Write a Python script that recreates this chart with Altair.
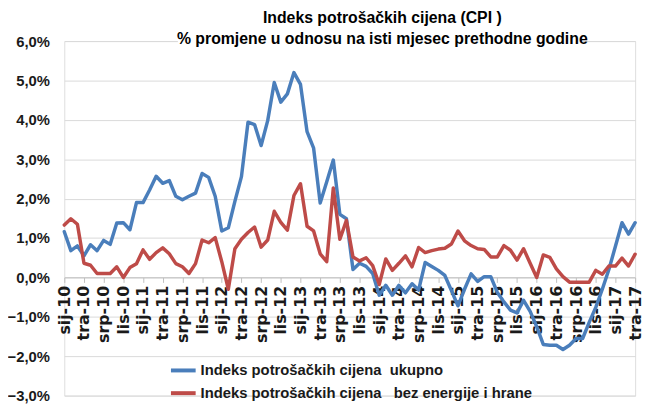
import altair as alt
import pandas as pd

# Croatian month abbreviations and years
month_names = ["sij", "velj", "ožu", "tra", "svi", "lip", "srp", "kol", "ruj", "lis", "stu", "pro"]
years = ["10", "11", "12", "13", "14", "15", "16", "17"]
periods = [f"{m}-{y}" for y in years for m in month_names][:88]  # sij-10 .. tra-17

# CPI total, % change y/y
ukupno = [
    1.16, 0.68, 0.80, 0.55, 0.83, 0.68, 0.94, 0.84, 1.38, 1.39, 1.21, 1.90,
    1.90, 2.22, 2.57, 2.39, 2.46, 2.06, 1.97, 2.06, 2.14, 2.64, 2.54, 2.06,
    1.18, 1.26, 1.93, 2.56, 3.94, 3.88, 3.35, 3.98, 4.95, 4.45, 4.66, 5.20,
    4.90, 3.70, 3.28, 1.89, 2.43, 2.98, 1.60, 1.49, 0.20, 0.36, 0.28, 0.10,
    -0.45, -0.20, -0.45, -0.20, -0.39, -0.16, -0.32, 0.38, 0.28, 0.18, 0.05, -0.33,
    -0.72, -0.30, 0.09, -0.10, 0.02, 0.02, -0.38, -0.62, -0.83, -0.90, -0.58, -0.86,
    -1.25, -1.70, -1.72, -1.72, -1.83, -1.72, -1.55, -1.55, -1.14, -0.76, -0.30, 0.20,
    0.79, 1.39, 1.10, 1.39,
]

# CPI excluding energy and food
bez_energije = [
    1.33, 1.49, 1.35, 0.36, 0.31, 0.10, 0.10, 0.10, 0.27, 0.00, 0.25, 0.35,
    0.70, 0.46, 0.63, 0.75, 0.60, 0.35, 0.27, 0.10, 0.35, 0.95, 0.88, 1.01,
    0.40, -0.30, 0.73, 0.97, 1.14, 1.28, 0.77, 0.95, 1.68, 1.40, 1.20, 2.08,
    2.38, 1.30, 1.18, 0.60, 0.40, 2.27, 0.97, 1.45, 0.52, 0.42, 0.50, 0.30,
    -0.18, 0.47, 0.18, 0.36, 0.55, 0.27, 0.76, 0.63, 0.68, 0.72, 0.74, 0.85,
    1.18, 0.93, 0.81, 0.73, 0.71, 0.52, 0.52, 0.81, 0.69, 0.44, 0.73, 0.36,
    0.00, 0.57, 0.51, 0.22, 0.02, -0.12, -0.12, -0.12, -0.12, 0.18, 0.08, 0.29,
    0.29, 0.49, 0.29, 0.59,
]

series_names = [
    "Indeks potrošačkih cijena\u00a0 ukupno",
    "Indeks potrošačkih cijena\u00a0\u00a0 bez energije i hrane",
]
series_colors = ["#4A7EBB", "#BE4B48"]

title_lines = [
    "Indeks potrošačkih cijena (CPI )",
    "% promjene u odnosu na isti mjesec prethodne godine",
]
y_ticks = [-3, -2, -1, 0, 1, 2, 3, 4, 5, 6]

rows = []
for name, vals in zip(series_names, [ukupno, bez_energije]):
    for p, v in zip(periods, vals):
        rows.append({"period": p, "series": name, "value": v})
df = pd.DataFrame(rows)

W, H = 578, 359
zero_offset = -H * 3 / 9  # x axis crosses at 0 %

lines = alt.Chart(df).mark_line(strokeWidth=3.5, strokeJoin="round", strokeCap="round").encode(
    x=alt.X(
        "period:O",
        sort=periods,
        scale=alt.Scale(type="point", padding=0),
        axis=alt.Axis(
            title=None,
            values=periods[::3],
            labelAngle=270,
            labelFont="DejaVu Sans",
            labelFontSize=16,
            labelFontWeight="bold",
            labelColor="#1a1a1a",
            labelPadding=3,
            tickSize=5,
            tickColor="#bfbfbf",
            domainColor="#bfbfbf",
            grid=False,
            offset=zero_offset,
        ),
    ),
    y=alt.Y(
        "value:Q",
        scale=alt.Scale(domain=[-3, 6], nice=False, zero=False),
        axis=alt.Axis(
            title=None,
            values=y_ticks,
            labelExpr="replace(format(datum.value, '.1f'), '.', ',') + '%'",
            labelFont="Liberation Sans",
            labelFontSize=15,
            labelFontWeight="bold",
            labelColor="#1a1a1a",
            labelPadding=15,
            ticks=False,
            tickSize=0,
            domain=False,
            grid=True,
            gridColor="#d9d9d9",
            gridWidth=1,
        ),
    ),
    color=alt.Color(
        "series:N",
        scale=alt.Scale(domain=series_names, range=series_colors),
        legend=alt.Legend(
            orient="none",
            legendX=106,
            legendY=319,
            title=None,
            symbolType="stroke",
            symbolSize=625,
            symbolStrokeWidth=4,
            labelFont="Liberation Sans",
            labelFontSize=15,
            labelFontWeight="bold",
            labelColor="#1a1a1a",
            labelOffset=3,
            labelLimit=600,
            rowPadding=0,
        ),
    ),
)

# white box behind the second title line (hides the 6 % gridline there)
title_box = alt.Chart(alt.Data(values=[{"a": 1}])).mark_rect(color="white").encode(
    x=alt.value(115), x2=alt.value(525), y=alt.value(-9), y2=alt.value(6)
)

chart = alt.layer(title_box, lines).properties(
    width=W,
    height=H,
    autosize=alt.AutoSizeParams(type="none"),
    padding={"left": 57, "top": 31, "right": 10, "bottom": 8},
    title=alt.TitleParams(
        text=title_lines,
        anchor="middle",
        dx=33,
        offset=-15,
        fontSize=16,
        font="Liberation Sans",
        fontWeight="bold",
        color="#000000",
        lineHeight=21,
    ),
).configure_view(strokeWidth=0).configure(background="white")

chart.save("out.html", embed_options={"renderer": "svg", "actions": False})
